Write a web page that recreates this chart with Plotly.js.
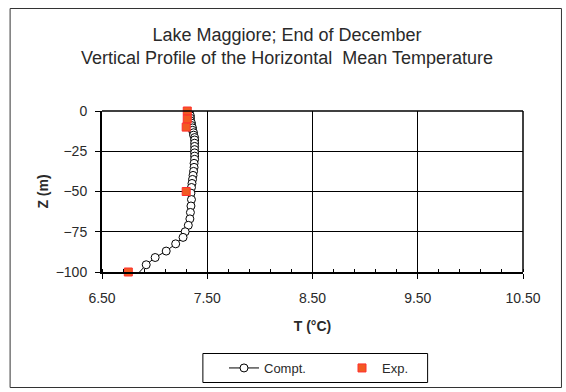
<!DOCTYPE html>
<html>
<head>
<meta charset="utf-8">
<script src="https://cdn.plot.ly/plotly-3.0.1.min.js"></script>
<style>
  html, body { margin: 0; padding: 0; background: #fff; }
  #chart { width: 566px; height: 392px; }
</style>
</head>
<body>
<div id="chart"></div>
<script>
// Computed profile (model layers, finer near the surface)
const comptDepth = [0, -1.5, -3, -4.5, -6, -7.5, -9, -10.5, -12, -13.5, -15, -16.5, -18, -20, -22, -24, -26, -28, -30,
  -32.5, -35, -37.5, -40, -42.5, -45, -47.5, -51, -55, -59, -63, -67, -71, -75, -78.5, -82.5, -87, -91, -95.5, -104];
const comptTemp = [7.33, 7.33, 7.34, 7.34, 7.34, 7.35, 7.35, 7.36, 7.36, 7.37, 7.37, 7.38, 7.38, 7.38, 7.38, 7.38, 7.38, 7.38, 7.38,
  7.375, 7.375, 7.37, 7.365, 7.36, 7.355, 7.35, 7.345, 7.35, 7.345, 7.34, 7.335, 7.32, 7.29, 7.27, 7.20, 7.11, 7.005, 6.92, 6.80];

// Measured profile
const expDepth = [0, -5, -10, -50, -100];
const expTemp = [7.31, 7.31, 7.30, 7.30, 6.75];

const xTicks = [6.5, 7.5, 8.5, 9.5, 10.5];
const yTicks = [0, -25, -50, -75, -100];

const W = 566, H = 392;
const margin = { l: 101.5, r: 43, t: 111, b: 120 };
const plotW = W - margin.l - margin.r;
const plotH = H - margin.t - margin.b;
// convert page pixels to paper coordinates (for frames drawn as shapes)
const px2x = p => (p - margin.l) / plotW;
const py2y = p => (H - margin.b - p) / plotH;

const textColor = '#2a2a2a';
const font = 'Liberation Sans, Arial, sans-serif';

const traces = [
  {
    name: 'Compt.',
    x: comptTemp, y: comptDepth,
    type: 'scatter', mode: 'lines+markers',
    line: { color: '#000', width: 1 },
    marker: { symbol: 'circle', size: 8, color: '#fff', line: { color: '#000', width: 1 } },
    cliponaxis: true
  },
  {
    name: 'Exp.',
    x: expTemp, y: expDepth,
    type: 'scatter', mode: 'markers',
    marker: { symbol: 'square', size: 8, color: '#F25A22', line: { color: '#FF2E2E', width: 1 } },
    cliponaxis: false
  }
];

const layout = {
  width: W, height: H,
  margin: Object.assign({ autoexpand: false }, margin),
  paper_bgcolor: '#fff', plot_bgcolor: '#fff',
  font: { family: font, size: 14, color: textColor },
  title: {
    text: 'Lake Maggiore; End of December<br>Vertical Profile of the Horizontal  Mean Temperature',
    font: { family: font, size: 18, color: textColor },
    x: 287 / W, xref: 'container', xanchor: 'center',
    y: 1 - 41 / H, yref: 'container', yanchor: 'middle'
  },
  xaxis: {
    range: [6.5, 10.5],
    tickvals: xTicks,
    tickformat: '.2f',
    ticks: 'outside', ticklen: 5, tickcolor: '#000', tickwidth: 1,
    ticklabelstandoff: 7,
    minor: { dtick: 0.2, tick0: 6.5, ticks: 'inside', ticklen: 3, tickcolor: '#000', tickwidth: 1, showgrid: false },
    showline: true, linecolor: '#000', linewidth: 2,
    showgrid: true, gridcolor: '#000', gridwidth: 1,
    zeroline: false,
    tickfont: { size: 14, color: textColor },
    title: { text: '<b>T (°C)</b>', font: { size: 14, color: textColor }, standoff: 16 }
  },
  yaxis: {
    range: [-100, 0],
    tickvals: yTicks,
    ticks: 'outside', ticklen: 5, tickcolor: '#000', tickwidth: 1,
    ticklabelstandoff: 5,
    showline: true, linecolor: '#000', linewidth: 2,
    showgrid: true, gridcolor: '#000', gridwidth: 1,
    zeroline: false,
    tickfont: { size: 14, color: textColor },
    title: { text: '<b>Z (m)</b>', font: { size: 14, color: textColor }, standoff: 4 }
  },
  showlegend: true,
  legend: {
    orientation: 'h',
    xref: 'container', yref: 'container',
    x: 224 / W, xanchor: 'left',
    y: 1 - 353 / H, yanchor: 'top',
    borderwidth: 0,
    bgcolor: 'rgba(0,0,0,0)',
    font: { size: 13, color: textColor },
    entrywidth: 73, entrywidthmode: 'pixels',
    itemclick: false
  },
  shapes: [
    // outer frame round the whole chart
    { type: 'rect', xref: 'paper', yref: 'paper',
      x0: px2x(9.5), x1: px2x(561.5), y0: py2y(8.5), y1: py2y(387.5),
      line: { color: '#333', width: 1 }, fillcolor: 'rgba(0,0,0,0)', layer: 'below' },
    // legend box
    { type: 'rect', xref: 'paper', yref: 'paper',
      x0: px2x(202.5), x1: px2x(427.5), y0: py2y(353.5), y1: py2y(382.5),
      line: { color: '#000', width: 1 }, fillcolor: 'rgba(0,0,0,0)', layer: 'below' },
    // top and right edges of the plot area
    { type: 'line', xref: 'paper', yref: 'paper', x0: 0, x1: 1, y0: 1, y1: 1, line: { color: '#000', width: 1.5 } },
    { type: 'line', xref: 'paper', yref: 'paper', x0: 1, x1: 1, y0: 0, y1: 1, line: { color: '#000', width: 1.5 } }
  ]
};

Plotly.newPlot('chart', traces, layout, { staticPlot: true, displayModeBar: false });
</script>
</body>
</html>
